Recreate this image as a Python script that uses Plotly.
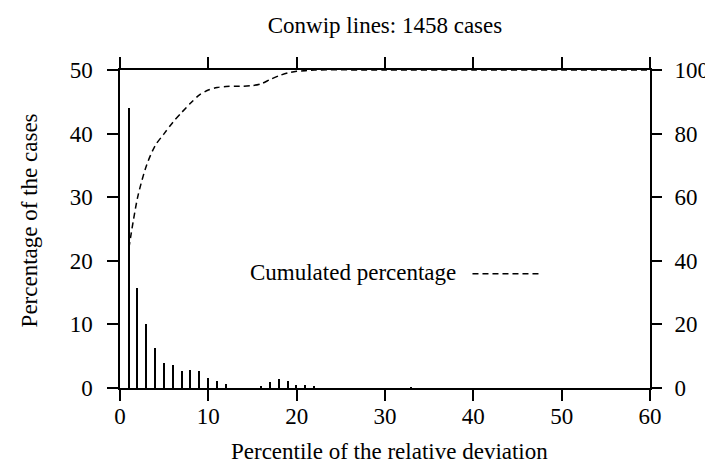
import plotly.graph_objects as go

# Percentile of the relative deviation (x) and percentage of the cases (left axis)
percentile = [1, 2, 3, 4, 5, 6, 7, 8, 9, 10, 11, 12, 16, 17, 18, 19, 20, 21, 22, 33]
pct_cases = [44.0, 15.7, 10.0, 6.3, 3.9, 3.65, 2.7, 2.9, 2.7, 1.6, 1.1, 0.7,
             0.26, 1.0, 1.46, 1.1, 0.47, 0.47, 0.2, 0.07]

# Cumulated percentage (right axis)
cum_x = [1, 2, 3, 4, 5, 6, 7, 8, 9, 10, 11, 12, 13, 14, 15, 16, 17, 18, 19, 20, 21, 22, 30, 40, 50, 60]
cum_pct = [43.9, 60.0, 70.0, 76.3, 80.0, 83.6, 86.7, 89.6, 92.2, 93.7, 94.5, 94.8, 94.9, 94.9, 95.1,
           95.7, 97.0, 98.2, 99.1, 99.6, 99.8, 100, 100, 100, 100, 100]

x_ticks = [0, 10, 20, 30, 40, 50, 60]
y_ticks = [0, 10, 20, 30, 40, 50]
y2_ticks = [0, 20, 40, 60, 80, 100]

FONT = "Liberation Serif"
FS = 23

fig = go.Figure()
fig.add_trace(go.Bar(x=percentile, y=pct_cases, width=0.16,
                     marker=dict(color="black", line=dict(width=0)),
                     showlegend=False))
fig.add_trace(go.Scatter(x=cum_x, y=cum_pct, yaxis="y2", mode="lines",
                         line=dict(color="black", width=1.5, dash="6px,4px",
                                   shape="spline", smoothing=0.8),
                         showlegend=False))

axis_common = dict(showgrid=False, zeroline=False, showline=True, linecolor="black",
                   linewidth=1.5, ticks="outside", ticklen=11, tickwidth=1.5,
                   tickcolor="black", tickfont=dict(family=FONT, size=FS, color="black"))

fig.update_layout(
    width=713, height=464,
    margin=dict(l=111.5, r=66.5, t=61.5, b=83.5),
    paper_bgcolor="white", plot_bgcolor="white",
    font=dict(family=FONT, size=FS, color="black"),
    title=dict(text="Conwip lines: 1458 cases", x=0.5, xref="paper",
               y=1 - 17 / 464, yref="container", yanchor="middle",
               font=dict(family=FONT, size=FS, color="black")),
    xaxis=dict(range=[0, 60], tickvals=x_ticks, mirror="ticks",
               ticklabelstandoff=-4, **axis_common),
    yaxis=dict(range=[0, 50], tickvals=y_ticks, mirror=True,
               ticklabelstandoff=10, **axis_common),
    yaxis2=dict(range=[0, 100], tickvals=y2_ticks, overlaying="y", side="right",
                showgrid=False, zeroline=False, showline=False, ticks="outside",
                ticklen=11, tickwidth=1.5, tickcolor="black", ticklabelstandoff=8,
                tickfont=dict(family=FONT, size=FS, color="black")),
    bargap=0,
    annotations=[
        dict(text="Percentage of the cases", xref="paper", yref="paper",
             x=(20.5 - 111.5) / 535, y=(380.5 - 212.5) / 319, textangle=-90,
             xanchor="center", yanchor="middle", showarrow=False,
             font=dict(family=FONT, size=FS, color="black")),
        dict(text="Percentile of the relative deviation", xref="paper", yref="paper",
             x=(384 - 111.5) / 535, y=-(444 - 380.5) / 319,
             xanchor="center", yanchor="middle", showarrow=False,
             font=dict(family=FONT, size=FS, color="black")),
        dict(text="Cumulated percentage", xref="paper", yref="paper",
             x=(452.7 - 111.5) / 535, y=(380.5 - 265) / 319,
             xanchor="right", yanchor="middle", showarrow=False,
             font=dict(family=FONT, size=FS, color="black")),
    ],
    shapes=[
        dict(type="line", xref="paper", yref="paper",
             x0=(467.3 - 111.5) / 535, x1=(535 - 111.5) / 535,
             y0=(380.5 - 266) / 319, y1=(380.5 - 266) / 319,
             line=dict(color="black", width=1.5, dash="6px,4px")),
    ],
)

fig.write_html("out.html")
